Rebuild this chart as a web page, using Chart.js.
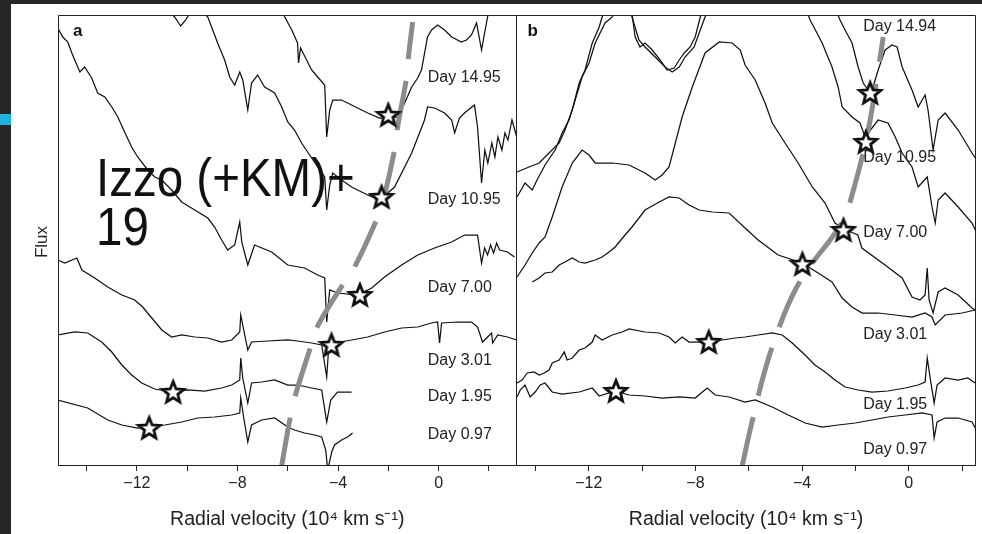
<!DOCTYPE html>
<html><head><meta charset="utf-8">
<script src="https://cdn.jsdelivr.net/npm/chart.js@4"></script>
<style>
html,body{margin:0;padding:0;background:#fff;}
#wrap{position:relative;width:982px;height:534px;overflow:hidden;background:#fff;}
#ca{position:absolute;left:0;top:0;width:520px;height:534px;}
#cb{position:absolute;left:510px;top:0;width:472px;height:534px;}
#strip{position:absolute;left:0;top:0;width:11px;height:534px;background:#262626;}
#topband{position:absolute;left:0;top:0;width:982px;height:4px;background:#262626;}
#cyan{position:absolute;left:0;top:114px;width:11px;height:11px;background:#1fb3d9;}
#note{position:absolute;left:96px;top:153px;font-family:'Liberation Sans',Arial,sans-serif;font-size:54px;line-height:49px;color:#111;transform:scaleX(0.88);transform-origin:0 0;white-space:nowrap;}
</style></head>
<body><div id="wrap">
<canvas id="ca" width="520" height="534"></canvas>
<canvas id="cb" width="472" height="534"></canvas>
<div id="strip"></div><div id="topband"></div><div id="cyan"></div>
<div id="note">Izzo (+KM)+<br>19</div>
</div>
<script>
const FONT = "'Liberation Sans', Arial, Helvetica, sans-serif";
const tickValues = [-14,-12,-10,-8,-6,-4,-2,0,2];
const tickLabels = ['', '−12', '', '−8', '', '−4', '', '0', ''];
const axisTitle = 'Radial velocity (10⁴ km s⁻¹)';
const yTitle = 'Flux';

// ---------- Panel a (velocity in 10^4 km/s, flux in arbitrary offset units) ----------
const a_d097_v = [-15.15,-13.96,-13.16,-12.60,-11.97,-11.49,-10.89,-10.22,-9.58,-8.91,-8.23,-7.91,-7.87,-7.75,-7.59,-7.44,-7.04,-6.52,-6.00,-5.73,-5.33,-4.93,-4.65,-4.49,-4.41,-4.25,-4.14,-3.86,-3.62,-3.42];
const a_d097_f = [65,57,45,40,37,38,40,43,47,48,50,52,67,47,23,40,45,47,38,35,32,30,28,15,-5,13,20,25,28,32];
const a_d195_v = [-15.15,-14.47,-13.96,-13.40,-13.00,-12.60,-12.21,-11.81,-11.29,-10.58,-9.98,-9.30,-8.63,-8.23,-7.91,-7.87,-7.79,-7.59,-7.44,-7.04,-6.52,-6.00,-5.61,-5.05,-4.65,-4.45,-4.29,-4.02,-3.46];
const a_d195_f = [130,133,132,123,113,100,90,82,76,73,75,74,77,80,85,107,87,62,82,83,85,80,80,77,75,43,65,73,73];
const a_d301_v = [-15.15,-14.87,-14.39,-14.19,-13.68,-13.16,-12.60,-12.09,-11.77,-11.41,-11.01,-10.62,-10.22,-9.70,-9.18,-8.63,-8.23,-7.91,-7.87,-7.71,-7.59,-7.44,-6.80,-6.00,-5.61,-5.05,-4.65,-4.45,-4.37,-4.14,-3.46,-2.82,-2.15,-1.47,-0.83,-0.28,-0.04,0.04,0.12,0.76,1.31,1.55,1.75,1.95,2.11,2.15,2.35,2.74,3.10];
const a_d301_f = [205,202,207,195,187,178,170,165,158,147,135,128,130,128,127,123,125,133,150,130,115,123,124,125,124,122,120,88,118,122,125,128,133,137,138,142,143,122,142,143,143,138,123,128,132,122,130,128,125];
const a_d700_v = [-15.15,-14.95,-14.75,-14.59,-14.39,-14.27,-14.08,-13.80,-13.56,-13.28,-13.00,-12.76,-12.49,-12.21,-11.97,-11.57,-11.29,-11.01,-10.62,-10.22,-9.70,-9.18,-8.91,-8.63,-8.39,-8.11,-7.91,-7.83,-7.59,-7.32,-6.64,-6.00,-5.33,-4.81,-4.53,-4.45,-4.33,-4.02,-3.22,-2.66,-2.15,-1.47,-0.83,-0.16,0.52,1.03,1.55,1.71,1.83,1.95,2.07,2.19,2.31,2.43,2.74,3.02];
const a_d700_f = [437,428,423,412,400,393,398,387,372,368,358,348,333,318,308,295,288,285,275,263,255,247,238,225,215,220,243,223,200,220,213,200,197,190,187,143,175,172,170,177,188,200,210,217,223,230,230,202,217,210,220,212,222,215,213,208];
const a_d1095_v = [-11.01,-10.50,-10.26,-10.06,-9.70,-9.18,-9.03,-8.79,-8.51,-8.31,-8.11,-7.91,-7.79,-7.59,-7.44,-7.20,-6.92,-6.52,-6.24,-6.00,-5.73,-5.45,-5.13,-4.81,-4.53,-4.45,-4.33,-4.21,-3.86,-3.46,-2.82,-2.35,-1.75,-1.07,-0.56,-0.44,-0.16,0.24,0.52,0.64,0.83,1.03,1.43,1.55,1.71,1.84,1.96,2.12,2.24,2.36,2.52,2.64,2.76,2.92,3.11];
const a_d1095_f = [460,448,439,445,460,448,438,422,405,388,380,393,385,355,382,390,378,372,358,343,335,322,310,298,288,255,280,292,285,278,270,265,278,312,345,358,357,352,345,332,347,352,360,338,282,315,302,322,308,328,315,332,325,345,328];
const a_d1495_v = [-6.72,-6.12,-5.84,-5.61,-5.57,-5.49,-5.05,-4.81,-4.53,-4.45,-4.33,-4.21,-3.86,-3.46,-2.82,-2.35,-2.03,-1.63,-1.35,-1.07,-0.83,-0.68,-0.44,-0.28,-0.04,0.24,0.52,0.91,1.11,1.31,1.51,1.71,1.83,1.95,2.11];
const a_d1495_f = [485,448,435,422,402,417,395,388,380,328,355,365,365,360,352,347,347,348,362,378,387,395,428,435,440,435,428,423,425,430,442,415,432,448,470];
const a_dash_v = [-6.25,-5.92,-5.73,-5.13,-4.85,-3.82,-3.34,-2.47,-2.23,-1.75,-1.63,-1.27,-1.19,-1.03];
const a_dash_f = [-2,45,67,115,137,180,198,245,262,315,338,388,410,443];
const a_star_v = [-2.00,-2.27,-3.13,-4.26,-10.56,-11.51];
const a_star_f = [350,268,170,120,73,37];
const a_labels = ['Day 14.95','Day 10.95','Day 7.00','Day 3.01','Day 1.95','Day 0.97'];
const a_label_v = [-0.43,-0.43,-0.43,-0.43,-0.43,-0.43];
const a_label_f = [387,265,177,104,68,30];

// ---------- Panel b ----------
const b_d097_v = [-14.69,-14.57,-14.39,-14.20,-14.01,-13.82,-13.64,-13.49,-13.37,-13.00,-12.36,-11.87,-11.61,-11.01,-10.49,-9.89,-9.25,-8.61,-8.01,-7.56,-7.26,-6.74,-6.14,-5.76,-5.12,-4.52,-3.89,-3.25,-2.65,-2.01,-1.38,-0.78,-0.14,0.50,0.87,0.95,1.06,1.36,1.85,2.37,2.49];
const b_d097_f = [68,75,80,68,73,80,82,77,73,71,73,77,69,74,70,69,67,68,67,77,70,68,63,65,58,50,42,38,40,42,45,48,50,52,50,27,43,47,47,43,37];
const b_d195_v = [-14.69,-14.50,-14.31,-14.05,-13.86,-13.67,-13.49,-13.37,-13.11,-12.92,-12.81,-12.62,-12.36,-12.14,-11.87,-11.76,-11.50,-11.12,-10.75,-10.49,-9.89,-9.36,-8.99,-8.76,-8.50,-8.24,-7.86,-7.49,-7.00,-6.51,-6.14,-5.65,-5.12,-4.75,-4.37,-3.89,-3.52,-3.14,-2.77,-2.39,-1.90,-1.38,-0.78,-0.14,0.35,0.61,0.69,0.80,0.95,1.06,1.36,1.85,2.21,2.49];
const b_d195_f = [82,85,92,93,90,92,95,102,105,113,105,107,115,117,123,130,125,130,133,136,133,132,128,122,128,123,123,123,125,127,128,130,132,130,122,110,100,93,85,78,75,73,74,77,80,83,107,87,62,80,87,85,87,82];
const b_d301_v = [-14.12,-13.86,-13.64,-13.37,-13.11,-12.89,-12.62,-12.36,-12.14,-11.76,-11.50,-11.24,-11.01,-10.64,-10.38,-9.89,-9.36,-8.99,-8.61,-8.24,-7.86,-7.38,-6.74,-6.14,-5.65,-4.90,-4.00,-3.40,-2.88,-2.50,-2.13,-1.75,-1.15,-0.51,0.12,0.61,0.87,0.99,1.36,2.00,2.49];
const b_d301_f = [183,187,192,193,200,203,207,203,202,205,208,213,218,230,238,255,263,268,267,260,255,253,252,237,225,210,202,192,183,167,158,152,152,150,148,152,148,140,150,152,155];
const b_d700_v = [-14.69,-14.39,-14.12,-13.86,-13.64,-13.37,-13.00,-12.62,-12.25,-11.99,-11.76,-11.12,-10.49,-9.89,-9.51,-9.25,-8.99,-8.50,-8.12,-7.64,-7.11,-6.62,-6.32,-6.14,-5.76,-5.39,-5.12,-4.64,-4.15,-3.62,-3.14,-2.77,-2.35,-1.91,-1.76,-0.89,-0.25,0.12,0.42,0.61,0.69,0.76,0.91,1.10,1.36,1.85,2.37,2.49];
const b_d700_f = [188,200,212,222,228,248,278,302,315,310,302,302,300,292,285,290,298,348,378,412,423,422,415,400,385,362,342,322,302,278,262,242,235,230,217,200,187,168,165,170,197,165,152,173,177,170,157,155];
const b_d1095_v = [-14.69,-14.39,-14.12,-13.94,-13.64,-13.26,-13.00,-12.74,-12.51,-12.25,-11.99,-11.76,-11.39,-11.12,-10.82,-10.52,-10.38,-10.12,-9.89,-9.51,-9.14,-8.87,-8.61,-8.39,-8.05,-7.82,-7.64,-7.26,-5.57,-4.07,-3.70,-3.25,-2.88,-2.65,-2.50,-2.13,-1.83,-1.64,-1.15,-0.78,-0.51,-0.25,0.12,0.35,0.69,0.87,0.99,1.10,1.36,1.85,2.37,2.49];
const b_d1095_f = [268,282,275,285,300,315,332,345,365,388,402,422,442,448,470,470,448,425,418,408,398,393,398,408,418,435,448,470,510,470,445,422,398,378,358,348,342,328,345,342,328,312,298,278,288,258,242,265,272,258,242,235];
const b_d1494_v = [-14.69,-14.24,-13.86,-13.49,-13.11,-12.89,-12.62,-12.36,-12.14,-11.87,-11.61,-11.50,-11.12,-10.82,-10.45,-10.26,-10.08,-9.89,-9.62,-9.32,-9.06,-8.80,-8.61,-8.42,-8.20,-8.01,-7.82,-7.45,-5.20,-2.95,-2.58,-2.39,-2.13,-1.90,-1.71,-1.53,-1.34,-1.15,-0.89,-0.63,-0.44,-0.25,0.12,0.35,0.61,0.72,0.91,1.10,1.36,1.85,2.37,2.49];
const b_d1494_f = [293,298,302,312,322,335,355,382,395,422,438,448,470,480,465,428,418,422,415,405,395,397,405,412,418,428,448,470,520,470,445,435,422,398,382,375,378,395,415,420,418,398,375,358,370,355,315,345,352,335,312,307];
const b_dash_v = [-6.25,-5.88,-5.39,-4.83,-4.26,-3.59,-2.95,-2.39,-2.13,-1.75,-1.45,-1.19,-0.96];
const b_dash_f = [-1,43,95,140,175,203,225,248,270,308,345,388,428];
const b_star_v = [-1.45,-1.61,-2.45,-3.99,-7.50,-10.98];
const b_star_f = [372,323,235,201,123,74];
const b_labels = ['Day 14.94','Day 10.95','Day 7.00','Day 3.01','Day 1.95','Day 0.97'];
const b_label_v = [-1.71,-1.71,-1.71,-1.71,-1.71,-1.71];
const b_label_f = [438,307,232,130,60,15];

function pts(v, f) { return v.map((x, i) => ({x: x, y: f[i]})); }

function makeStar() {
  const c = document.createElement('canvas');
  c.width = 28; c.height = 28;
  const g = c.getContext('2d');
  g.beginPath();
  for (let k = 0; k < 10; k++) {
    const r = (k % 2) ? 4.9 : 11.2;
    const ang = -Math.PI / 2 + k * Math.PI / 5;
    const px = 14 + r * Math.cos(ang), py = 14.8 + r * Math.sin(ang);
    if (k) g.lineTo(px, py); else g.moveTo(px, py);
  }
  g.closePath();
  g.fillStyle = '#fff'; g.fill();
  g.lineWidth = 2.8; g.strokeStyle = '#111'; g.lineJoin = 'miter'; g.stroke();
  return c;
}
const STAR = makeStar();

function decor(cfg) {
  return {
    id: 'decor_' + cfg.id,
    afterDraw(chart) {
      const {ctx, chartArea: ca, scales} = chart;
      ctx.save();
      ctx.strokeStyle = '#222'; ctx.lineWidth = 1;
      const L = Math.round(ca.left) + 0.5, T = Math.round(ca.top) + 0.5;
      const R = Math.round(ca.right) - 0.5, B = Math.round(ca.bottom) + 0.5;
      ctx.beginPath();
      if (cfg.drawLeft) { ctx.moveTo(L, B); ctx.lineTo(L, T); } else { ctx.moveTo(L - 1, T); }
      ctx.lineTo(L - (cfg.drawLeft ? 0 : 1), T);
      ctx.moveTo(cfg.drawLeft ? L : L - 1, T); ctx.lineTo(R, T); ctx.lineTo(R, B);
      ctx.stroke();
      ctx.fillStyle = '#222';
      ctx.font = '16px ' + FONT;
      ctx.textAlign = 'left'; ctx.textBaseline = 'middle';
      cfg.labels.forEach((t, i) => {
        ctx.fillText(t, scales.x.getPixelForValue(cfg.labelV[i]), scales.y.getPixelForValue(cfg.labelF[i]));
      });
      ctx.font = 'bold 17px ' + FONT;
      ctx.fillStyle = '#111';
      ctx.fillText(cfg.letter, ca.left + cfg.letterDx, ca.top + 16);
      if (cfg.yTitle) {
        ctx.save();
        ctx.translate(42, 242);
        ctx.rotate(-Math.PI / 2);
        ctx.textAlign = 'center';
        ctx.font = '17px ' + FONT;
        ctx.fillStyle = '#222';
        ctx.fillText(cfg.yTitle, 0, 0);
        ctx.restore();
      }
      ctx.restore();
    }
  };
}

function makeChart(cfg) {
  const datasets = [];
  cfg.spectra.forEach(s => datasets.push({
    data: pts(s[0], s[1]), borderColor: '#111', borderWidth: 1.25,
    pointRadius: 0, tension: 0, order: 2, fill: false
  }));
  datasets.push({
    data: pts(cfg.dashV, cfg.dashF), borderColor: '#8c8c8c', borderWidth: 5,
    borderDash: [50, 22], borderCapStyle: 'butt', pointRadius: 0, tension: 0.4, order: 1, fill: false
  });
  datasets.push({
    data: pts(cfg.starV, cfg.starF), showLine: false, pointStyle: STAR,
    pointRadius: 12, order: 0
  });
  return new Chart(document.getElementById(cfg.id), {
    type: 'line',
    data: {datasets: datasets},
    options: {
      responsive: false, animation: false, devicePixelRatio: 1,
      layout: {autoPadding: false, padding: {left: cfg.padL, right: cfg.padR, top: 15, bottom: 0}},
      plugins: {legend: {display: false}, tooltip: {enabled: false}},
      scales: {
        x: {
          type: 'linear', min: cfg.min, max: cfg.max,
          afterBuildTicks: s => { s.ticks = tickValues.map(v => ({value: v})); },
          afterFit: s => { s.height = 69; s.paddingLeft = 0; s.paddingRight = 0; },
          ticks: {callback: (v, i) => tickLabels[i], autoSkip: false, maxRotation: 0, padding: 3,
                  color: '#222', font: {family: FONT, size: 16}},
          grid: {drawOnChartArea: false, drawTicks: true, tickLength: 6, color: '#222', lineWidth: 1},
          border: {display: true, color: '#222', width: 1},
          title: {display: true, text: axisTitle, color: '#222',
                  font: {family: FONT, size: 19.5}, padding: {top: 0, bottom: 3}}
        },
        y: {type: 'linear', display: false, min: 0, max: 450}
      }
    },
    plugins: [decor(cfg)]
  });
}

makeChart({
  id: 'ca', padL: 58, padR: 3.5, min: -15.14, max: 3.10,
  spectra: [[a_d097_v, a_d097_f], [a_d195_v, a_d195_f], [a_d301_v, a_d301_f],
            [a_d700_v, a_d700_f], [a_d1095_v, a_d1095_f], [a_d1495_v, a_d1495_f]],
  dashV: a_dash_v, dashF: a_dash_f, starV: a_star_v, starF: a_star_f,
  labels: a_labels, labelV: a_label_v, labelF: a_label_f,
  letter: 'a', letterDx: 15, yTitle: yTitle, drawLeft: true
});
makeChart({
  id: 'cb', padL: 6.5, padR: 6.5, min: -14.71, max: 2.50,
  spectra: [[b_d097_v, b_d097_f], [b_d195_v, b_d195_f], [b_d301_v, b_d301_f],
            [b_d700_v, b_d700_f], [b_d1095_v, b_d1095_f], [b_d1494_v, b_d1494_f]],
  dashV: b_dash_v, dashF: b_dash_f, starV: b_star_v, starF: b_star_f,
  labels: b_labels, labelV: b_label_v, labelF: b_label_f,
  letter: 'b', letterDx: 11, yTitle: null, drawLeft: false
});
</script>
</body></html>
